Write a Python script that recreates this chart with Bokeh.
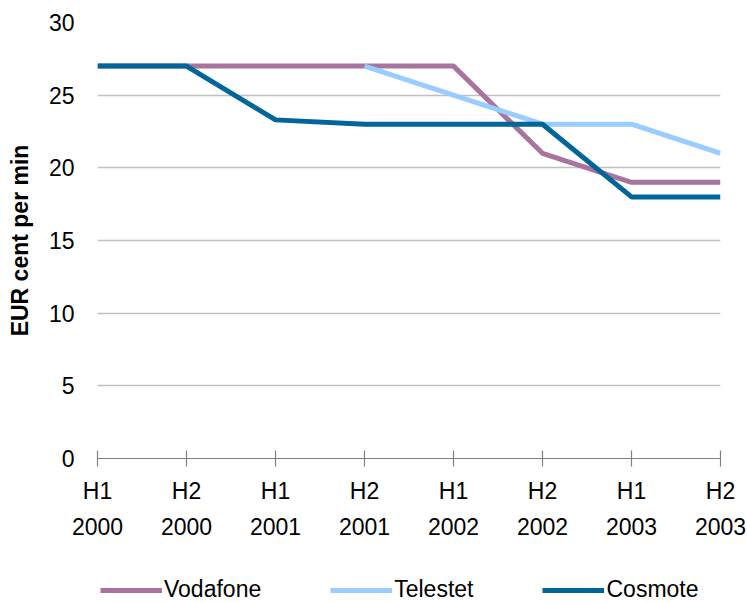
from bokeh.plotting import figure
from bokeh.layouts import column
from bokeh.models import Legend, LegendItem, FixedTicker, Range1d
from bokeh.embed import file_html
from bokeh.resources import INLINE
import math

periods = ["H1\n2000", "H2\n2000", "H1\n2001", "H2\n2001", "H1\n2002", "H2\n2002", "H1\n2003", "H2\n2003"]
vodafone = [27, 27, 27, 27, 27, 21, 19, 19]
telestet = [math.nan, math.nan, math.nan, 27, 25, 23, 23, 21]
cosmote = [27, 27, 23.3, 23, 23, 23, 18, 18]
y_ticks = [0, 5, 10, 15, 20, 25, 30]
series_names = ["Vodafone", "Telestet", "Cosmote"]
series_colors = ["#A8749F", "#99CCFF", "#006699"]

xs = list(range(len(periods)))
font = "Liberation Sans"
fs = "23px"

p = figure(width=747, height=563, output_backend="svg", toolbar_location=None,
           x_range=Range1d(0, len(periods) - 1), y_range=Range1d(0, 30),
           min_border_left=97, min_border_right=27, min_border_top=22, min_border_bottom=105)
p.outline_line_color = None

for vals, col in zip([vodafone, telestet, cosmote], series_colors):
    p.line(xs, vals, line_color=col, line_width=5)

p.xgrid.grid_line_color = None
p.ygrid.grid_line_color = "#C0C0C0"
p.ygrid.grid_line_width = 1.5
p.ygrid.ticker = FixedTicker(ticks=y_ticks)

p.yaxis.ticker = FixedTicker(ticks=y_ticks)
p.yaxis.axis_line_color = None
p.yaxis.major_tick_line_color = None
p.yaxis.minor_tick_line_color = None
p.yaxis.major_label_text_font = font
p.yaxis.major_label_text_font_size = fs
p.yaxis.major_label_text_color = "#000000"
p.yaxis.major_label_standoff = 17
p.yaxis.axis_label = "EUR cent per min"
p.yaxis.axis_label_text_font = font
p.yaxis.axis_label_text_font_style = "bold"
p.yaxis.axis_label_text_font_size = "23px"
p.yaxis.axis_label_text_color = "#000000"
p.yaxis.axis_label_standoff = 13

p.xaxis.ticker = FixedTicker(ticks=xs)
p.xaxis.major_label_overrides = {i: lab for i, lab in enumerate(periods)}
p.xaxis.axis_line_color = "#808080"
p.xaxis.axis_line_width = 1.2
p.xaxis.major_tick_line_color = "#808080"
p.xaxis.major_tick_line_width = 1.2
p.xaxis.major_tick_in = 8
p.xaxis.major_tick_out = 8
p.xaxis.minor_tick_line_color = None
p.xaxis.major_label_text_font = font
p.xaxis.major_label_text_font_size = fs
p.xaxis.major_label_text_color = "#000000"
p.xaxis.major_label_text_line_height = 1.42
p.xaxis.major_label_standoff = 11

# legend strip below the chart
lg = figure(width=747, height=40, output_backend="svg", toolbar_location=None,
            x_range=Range1d(0, 1), y_range=Range1d(0, 1),
            min_border_left=0, min_border_right=0, min_border_top=0, min_border_bottom=0)
lg.axis.visible = False
lg.grid.visible = False
lg.outline_line_color = None
items = []
for name, col in zip(series_names, series_colors):
    rr = lg.line([-10, -9], [-10, -9], line_color=col, line_width=5)
    items.append(LegendItem(label=name, renderers=[rr]))
legend = Legend(items=items, orientation="horizontal", location=(3, 0),
                border_line_color=None, background_fill_alpha=0,
                label_text_font=font, label_text_font_size=fs,
                label_text_color="#000000",
                glyph_width=62, glyph_height=20, label_standoff=2, spacing=69,
                margin=0, padding=0)
lg.add_layout(legend, "center")

layout = column(p, lg, spacing=0)
open("out.html", "w").write(file_html(layout, INLINE))
